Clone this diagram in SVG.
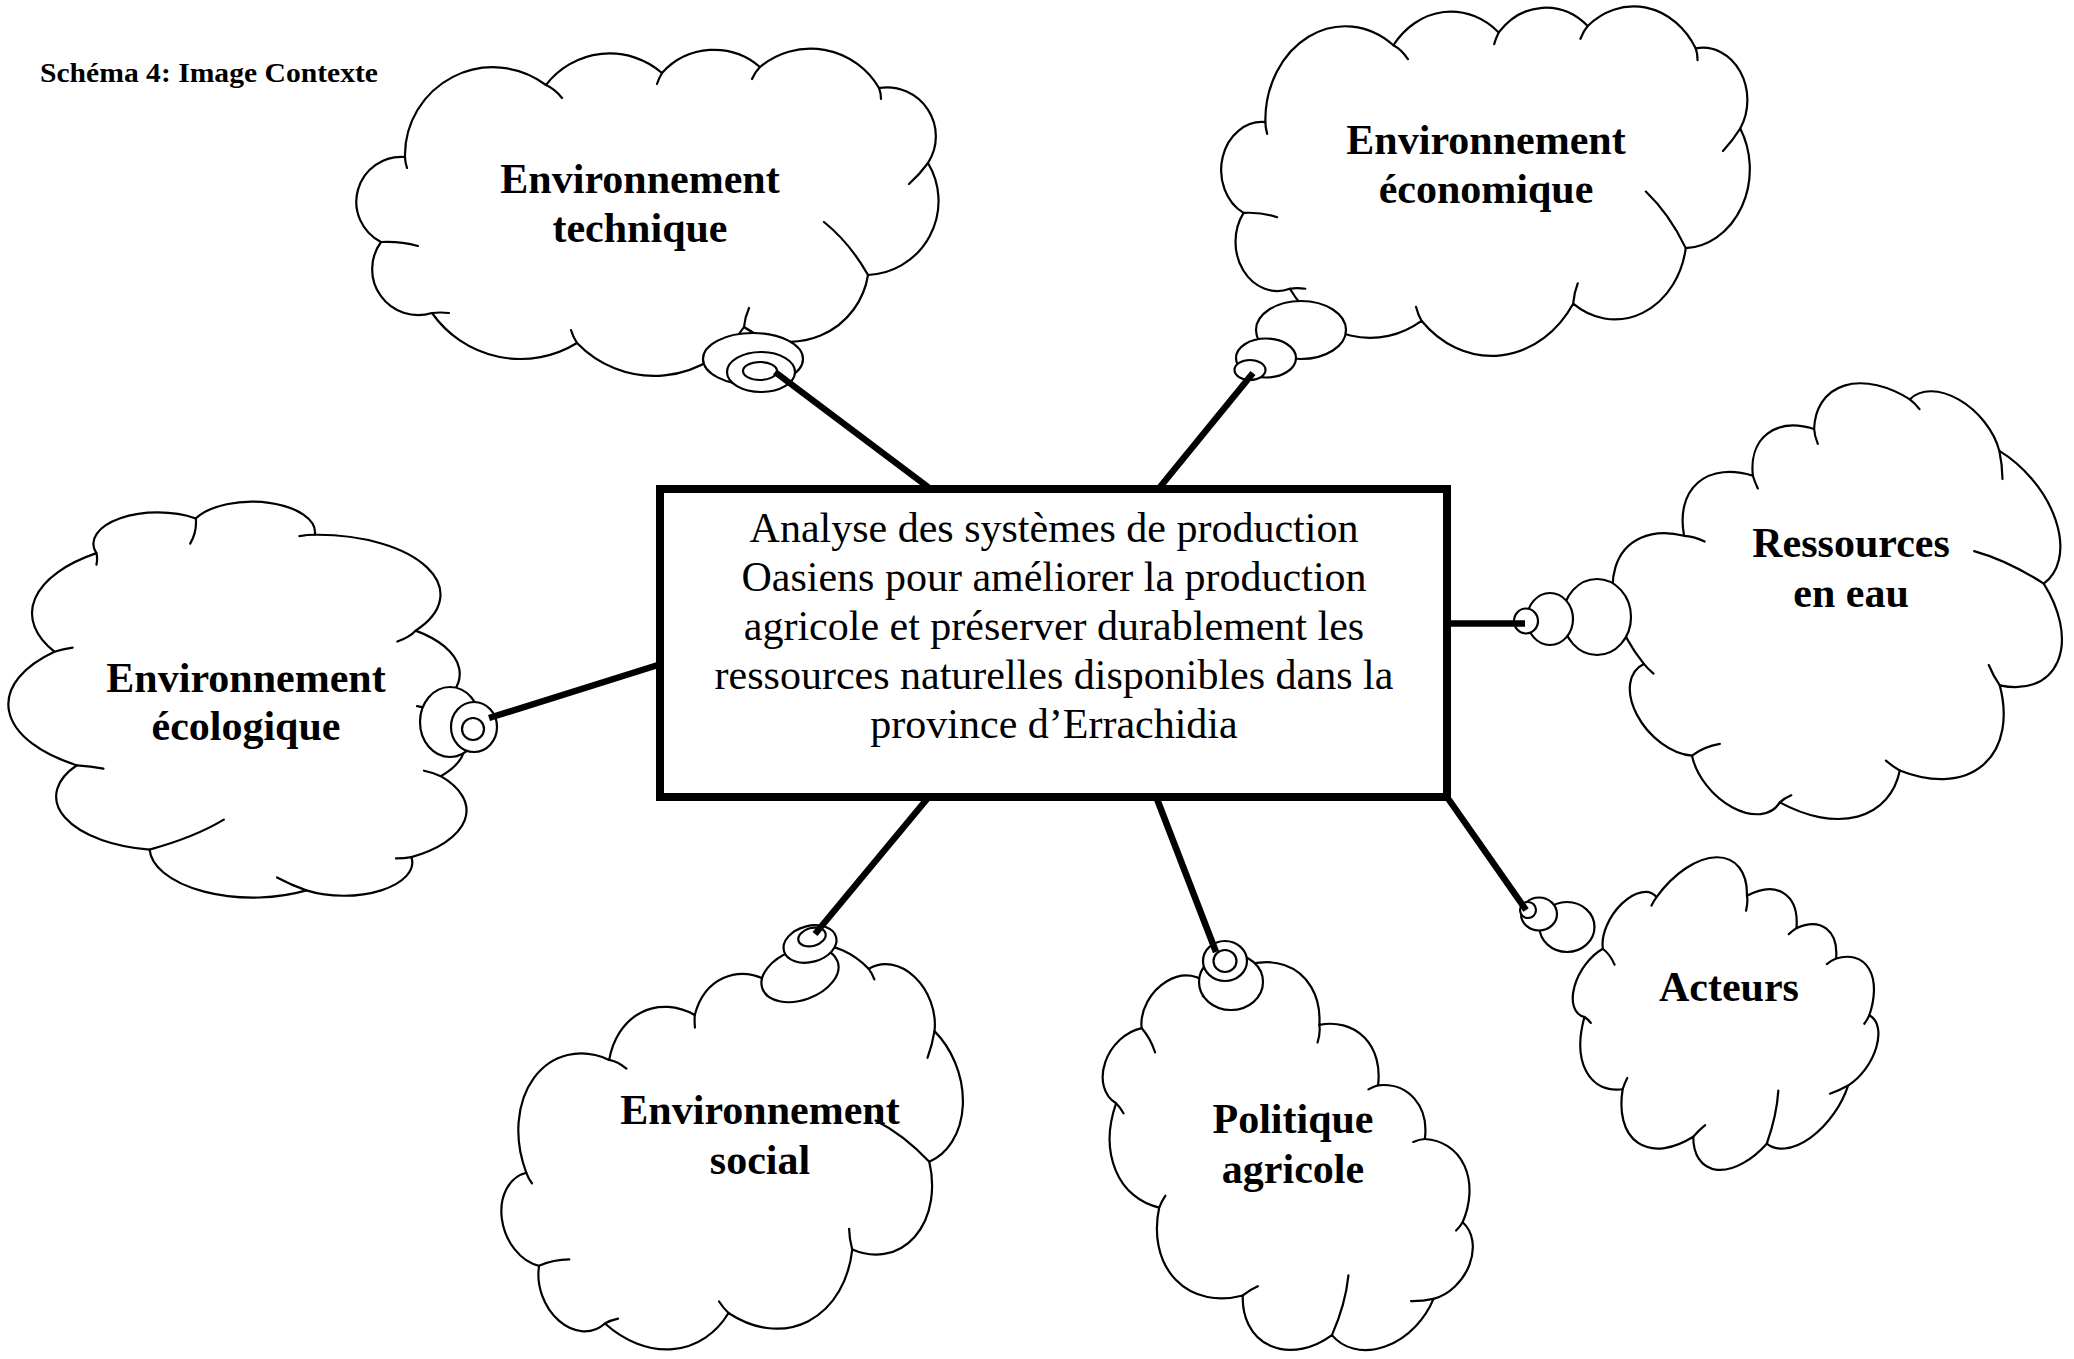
<svg xmlns="http://www.w3.org/2000/svg" xmlns:xlink="http://www.w3.org/1999/xlink" width="2074" height="1359" viewBox="0 0 2074 1359">
<style>
.cl{fill:#fff;stroke:#000;stroke-width:2.2;vector-effect:non-scaling-stroke;stroke-linejoin:round}
.hk{fill:none;stroke:#000;stroke-width:2.2;vector-effect:non-scaling-stroke;stroke-linecap:round}
.bb{fill:#fff;stroke:#000;stroke-width:2.2}
.lbl{font-family:"Liberation Serif","Times New Roman",serif;font-weight:bold;font-size:42px;text-anchor:middle;fill:#000}
.ctr{font-family:"Liberation Serif","Times New Roman",serif;font-size:42px;text-anchor:middle;fill:#000}
.con{stroke:#000;stroke-width:6.5;fill:none;stroke-linecap:butt}
</style>
<defs>
<g id="cloud">
<path class="cl" d="M405,157 A88,88 0 0 1 546,85 A80,80 0 0 1 662,73 A70,70 0 0 1 760,67 A79,79 0 0 1 879,88 A49,49 0 0 1 928,163 A74,74 0 0 1 868,275 A79,79 0 0 1 744,327 A107,107 0 0 1 577,343 A108,108 0 0 1 432,313 A46,46 0 0 1 381,242 A45,45 0 0 1 405,157 Z"/>
<path class="hk" d="M546,85 Q555,89 562,98 M662,73 Q659,78 657,84 M760,67 Q755,72 752,79 M879,88 Q881,93 881,99 M928,163 Q920,174 909,184 M868,275 Q850,243 824,222 M744,327 Q745,317 749,308 M577,343 Q573,337 571,330 M432,313 Q440,312 449,313 M381,242 Q400,241 418,246 M405,157 Q405,162 407,168"/>
</g>
</defs>
<rect width="2074" height="1359" fill="#fff"/>
<text x="40" y="82" font-family="Liberation Serif, Times New Roman, serif" font-weight="bold" font-size="27" textLength="338" lengthAdjust="spacingAndGlyphs">Schéma 4: Image Contexte</text>

<g id="node-technique">
<use xlink:href="#cloud"/>
<ellipse class="bb" cx="753" cy="359" rx="50" ry="26"/>
<ellipse class="bb" cx="761" cy="372" rx="34" ry="20"/>
<ellipse class="bb" cx="760" cy="371" rx="17" ry="9"/>
<text class="lbl" x="640" y="193">Environnement</text>
<text class="lbl" x="640" y="242">technique</text>
</g>

<g id="node-economique">
<use xlink:href="#cloud" transform="translate(1486,183) scale(0.908,1.068) translate(-648,-214)"/>
<ellipse class="bb" cx="1301" cy="330" rx="45" ry="29"/>
<ellipse class="bb" cx="1266" cy="358" rx="30" ry="19.5"/>
<ellipse class="bb" cx="1250" cy="370" rx="15.5" ry="10"/>
<text class="lbl" x="1486" y="154">Environnement</text>
<text class="lbl" x="1486" y="203">économique</text>
</g>

<g id="node-ecologique">
<use xlink:href="#cloud" transform="translate(235,700) scale(1.40,0.68) rotate(90) translate(-648,-214)"/>
<ellipse class="bb" cx="450" cy="722" rx="30" ry="35"/>
<ellipse class="bb" cx="474" cy="727" rx="23" ry="25"/>
<ellipse class="bb" cx="473" cy="729" rx="11" ry="11"/>
<text class="lbl" x="246" y="692">Environnement</text>
<text class="lbl" x="246" y="740">écologique</text>
</g>

<g id="node-ressources">
<use xlink:href="#cloud" transform="translate(1850,617) scale(1.037,0.923) rotate(-35) scale(0.79,1.27) translate(-648,-214)"/>
<ellipse class="bb" cx="1597" cy="617" rx="34" ry="38"/>
<ellipse class="bb" cx="1550" cy="619" rx="23" ry="26"/>
<ellipse class="bb" cx="1526" cy="621" rx="12" ry="12.5"/>
<text class="lbl" x="1851" y="557">Ressources</text>
<text class="lbl" x="1851" y="607">en eau</text>
</g>

<g id="node-acteurs">
<use xlink:href="#cloud" transform="translate(1717,1023) scale(0.9,1.015) rotate(40) scale(0.54,0.91) translate(-648,-214)"/>
<ellipse class="bb" cx="1567" cy="927" rx="27.5" ry="25"/>
<ellipse class="bb" cx="1539" cy="914" rx="18" ry="16.5"/>
<ellipse class="bb" cx="1528" cy="910" rx="8" ry="8"/>
<text class="lbl" x="1729" y="1001">Acteurs</text>
</g>

<g id="node-politique">
<use xlink:href="#cloud" transform="translate(1277,1167) scale(0.93,1.05) rotate(50) scale(0.73,0.945) translate(-648,-214)"/>
<ellipse class="bb" cx="1231" cy="982" rx="32" ry="28"/>
<ellipse class="bb" cx="1225" cy="961" rx="22" ry="20"/>
<ellipse class="bb" cx="1225" cy="961" rx="11.5" ry="11"/>
<text class="lbl" x="1293" y="1133">Politique</text>
<text class="lbl" x="1293" y="1183">agricole</text>
</g>

<g id="node-social">
<use xlink:href="#cloud" transform="translate(736,1162) rotate(-20) scale(0.826,1.08) translate(-648,-214)"/>
<ellipse class="bb" cx="800" cy="975" rx="40" ry="25" transform="rotate(-20 800 975)"/>
<ellipse class="bb" cx="810" cy="944" rx="27" ry="18" transform="rotate(-15 810 944)"/>
<ellipse class="bb" cx="812" cy="937" rx="14" ry="9" transform="rotate(-15 812 937)"/>
<text class="lbl" x="760" y="1124">Environnement</text>
<text class="lbl" x="760" y="1174">social</text>
</g>

<g id="node-centre">
<rect x="660" y="489" width="787" height="308" fill="#fff" stroke="#000" stroke-width="8"/>
<text class="ctr" x="1054" y="542">Analyse des systèmes de production</text>
<text class="ctr" x="1054" y="591">Oasiens pour améliorer la production</text>
<text class="ctr" x="1054" y="640">agricole et préserver durablement les</text>
<text class="ctr" x="1054" y="689">ressources naturelles disponibles dans la</text>
<text class="ctr" x="1054" y="738">province d’Errachidia</text>
</g>

<g id="connectors">
<line class="con" x1="775" y1="372" x2="928" y2="487"/>
<line class="con" x1="1253" y1="373" x2="1160" y2="487"/>
<line class="con" x1="489" y1="718" x2="658" y2="665"/>
<line class="con" x1="1449" y1="623.5" x2="1525" y2="623.5"/>
<line class="con" x1="1447" y1="797" x2="1526" y2="910"/>
<line class="con" x1="1157" y1="799" x2="1216" y2="952"/>
<line class="con" x1="927" y1="799" x2="815" y2="934"/>
</g>
</svg>
